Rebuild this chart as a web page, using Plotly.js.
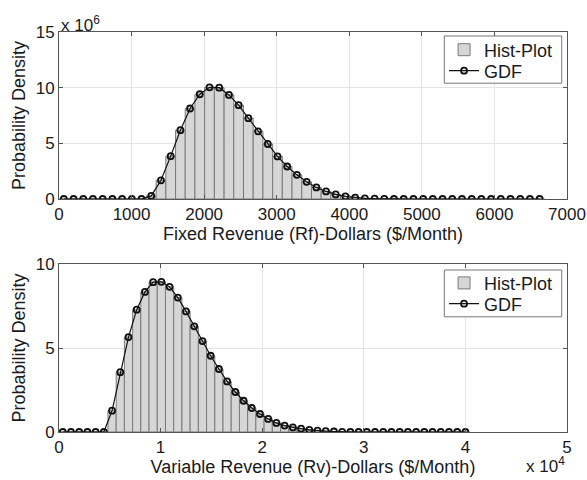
<!DOCTYPE html>
<html>
<head>
<meta charset="utf-8">
<script src="https://cdn.plot.ly/plotly-3.0.1.min.js"></script>
<style>html,body{margin:0;padding:0;background:#fff;}#chart{width:587px;height:480px;}</style>
</head>
<body>
<div id="chart"></div>
<script>
// Fixed revenue (top panel): bin centres ($/Month) and density (x 10^6)
var fixedBinCenters = [67,201,335,468,602,736,870,1004,1137,1271,1405,1539,1673,1806,1940,2074,2208,2342,2475,2609,2743,2877,3011,3144,3278,3412,3546,3680,3813,3947,4081,4215,4349,4482,4616,4750,4884,5018,5151,5285,5419,5553,5687,5820,5954,6088,6222,6356,6489,6623];
var fixedHist = [0,0,0,0,0,0,0,0,0,0.28,1.68,3.85,6.18,8.13,9.41,10.03,10.0,9.35,8.43,7.26,6.08,4.94,3.82,2.92,2.17,1.54,1.04,0.68,0.41,0.23,0.12,0.06,0.03,0.01,0,0,0,0,0,0,0,0,0,0,0,0,0,0,0,0];
var fixedGDF = [0,0,0,0,0,0,0,0,0,0.28,1.68,3.85,6.18,8.13,9.41,10.03,10.0,9.35,8.43,7.26,6.08,4.94,3.82,2.92,2.17,1.54,1.04,0.68,0.41,0.23,0.12,0.06,0.03,0.01,0,0,0,0,0,0,0,0,0,0,0,0,0,0,0,0];

// Variable revenue (bottom panel): bin centres ($/Month) and density (x 10^6)
var varBinCenters = [370,1179,1988,2796,3605,4414,5223,6032,6840,7649,8458,9267,10076,10884,11693,12502,13311,14120,14928,15737,16546,17355,18164,18972,19781,20590,21399,22208,23016,23825,24634,25443,26252,27060,27869,28678,29487,30296,31104,31913,32722,33531,34340,35148,35957,36766,37575,38384,39192,40000];
var varHist = [0,0,0,0,0,0,1.27,3.56,5.65,7.28,8.34,8.92,8.94,8.64,8.0,7.18,6.29,5.41,4.54,3.75,3.01,2.38,1.86,1.43,1.07,0.78,0.54,0.38,0.27,0.2,0.13,0.08,0.05,0.03,0.01,0,0,0,0,0,0,0,0,0,0,0,0,0,0,0];
var varGDF = [0,0,0,0,0,0,1.27,3.56,5.65,7.28,8.34,8.92,8.94,8.64,8.0,7.18,6.29,5.41,4.54,3.75,3.01,2.38,1.86,1.43,1.07,0.78,0.54,0.38,0.27,0.2,0.13,0.08,0.05,0.03,0.01,0,0,0,0,0,0,0,0,0,0,0,0,0,0,0];

var topXTicks = [0,1000,2000,3000,4000,5000,6000,7000];
var topYTicks = [0,5,10,15];
var botXTicks = [0,10000,20000,30000,40000,50000];
var botXTickText = ['0','1','2','3','4','5'];
var botYTicks = [0,5,10];

var legendNames = ['Hist-Plot','GDF'];
var xTitles = ['Fixed Revenue (Rf)-Dollars ($/Month)','Variable Revenue (Rv)-Dollars ($/Month)'];
var yTitle = 'Probability Density';

var FONT = '"Liberation Sans", Arial, sans-serif';
var TXT = '#1a1a1a';
var barStyle = {color:'#d6d6d6', line:{color:'#7a7a7a', width:1}};
var lineStyle = {color:'#111', width:1.2};
var markerStyle = {symbol:'circle-open', size:6, color:'#111', line:{width:1.8, color:'#111'}};

var traces = [
  {type:'bar', x:fixedBinCenters, y:fixedHist, width:133.8, name:legendNames[0], marker:barStyle, xaxis:'x', yaxis:'y', legend:'legend'},
  {type:'scatter', mode:'lines+markers', x:fixedBinCenters, y:fixedGDF, name:legendNames[1], line:lineStyle, marker:markerStyle, xaxis:'x', yaxis:'y', legend:'legend2'},
  {type:'bar', x:varBinCenters, y:varHist, width:808.8, name:legendNames[0], marker:barStyle, xaxis:'x2', yaxis:'y2', legend:'legend3'},
  {type:'scatter', mode:'lines+markers', x:varBinCenters, y:varGDF, name:legendNames[1], line:lineStyle, marker:markerStyle, xaxis:'x2', yaxis:'y2', legend:'legend4'}
];

function axisBase(){
  return {showline:true, mirror:'ticks', linecolor:'#555', linewidth:1,
    ticks:'inside', ticklen:4, tickcolor:'#555', showgrid:true, gridcolor:'#e4e4e4', gridwidth:1,
    zeroline:false, tickfont:{family:FONT, size:17, color:TXT}, automargin:false};
}
var xa = axisBase(); xa.range=[0,7000]; xa.tickvals=topXTicks; xa.anchor='y'; xa.domain=[0,1];
xa.title={text:xTitles[0], font:{family:FONT,size:18,color:TXT}, standoff:0};
var ya = axisBase(); ya.range=[0,15]; ya.tickvals=topYTicks; ya.anchor='x'; ya.domain=[0.5825,1];
ya.title={text:yTitle, font:{family:FONT,size:18,color:TXT}, standoff:5};
var xa2 = axisBase(); xa2.range=[0,50000]; xa2.tickvals=botXTicks; xa2.ticktext=botXTickText; xa2.anchor='y2'; xa2.domain=[0,1];
xa2.title={text:xTitles[1], font:{family:FONT,size:18,color:TXT}, standoff:1};
var ya2 = axisBase(); ya2.range=[0,10]; ya2.tickvals=botYTicks; ya2.anchor='x2'; ya2.domain=[0,0.42];
ya2.title={text:yTitle, font:{family:FONT,size:18,color:TXT}, standoff:5};

function leg(y){
  return {xref:'paper', yref:'paper', x:0.758, xanchor:'left', y:y, yanchor:'middle',
    bgcolor:'rgba(0,0,0,0)', borderwidth:0, font:{family:FONT,size:18,color:TXT}};
}
function frame(y0, y1){
  return {type:'rect', xref:'paper', yref:'paper', x0:0.7585, x1:0.9896, y0:y0, y1:y1,
    fillcolor:'#fff', line:{color:'#777', width:1}, layer:'above'};
}

var layout = {
  width:587, height:480, paper_bgcolor:'#fff', plot_bgcolor:'#fff',
  margin:{l:59, r:20, t:32, b:48},
  font:{family:FONT, size:17, color:TXT},
  bargap:0, showlegend:true,
  xaxis:xa, yaxis:ya, xaxis2:xa2, yaxis2:ya2,
  legend:leg(0.955), legend2:leg(0.9025), legend3:leg(0.372), legend4:leg(0.32),
  shapes:[frame(0.872, 0.99), frame(0.288, 0.405)],
  annotations:[
    {xref:'paper', yref:'paper', x:0, y:1.02, xanchor:'left', yanchor:'middle', showarrow:false,
     text:'x 10<sup>6</sup>', font:{family:FONT,size:17,color:TXT}},
    {xref:'paper', yref:'paper', x:1.0, y:-0.116, xanchor:'right', yanchor:'bottom', showarrow:false,
     text:'x 10<sup>4</sup>', font:{family:FONT,size:17,color:TXT}}
  ]
};

Plotly.newPlot('chart', traces, layout, {staticPlot:true, displayModeBar:false});
</script>
</body>
</html>
